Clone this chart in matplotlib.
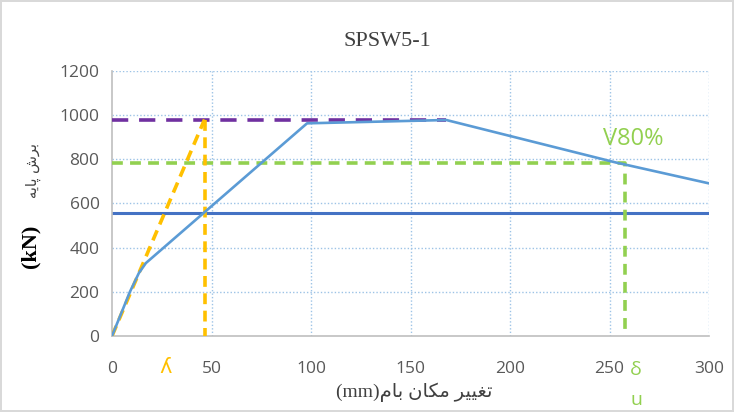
import matplotlib
matplotlib.use("Agg")
import matplotlib.pyplot as plt

# data
curve_x = [0, 9, 13.5, 17, 98, 168, 253, 300]
curve_y = [0, 200, 285, 330, 963, 978, 786, 691]
yield_x = [0, 46.5, 46.5]
yield_y = [0, 980, 0]
peak_level = 980
peak_end = 168
v80_level = 782
v80_x = 258
mid_level = 556
xticks = [0, 50, 100, 150, 200, 250, 300]
yticks = [0, 200, 400, 600, 800, 1000, 1200]

fig = plt.figure(figsize=(7.34, 4.12), dpi=100)
fig.patch.set_edgecolor("#D9D9D9")
fig.patch.set_linewidth(1.5)
ax = fig.add_axes([0.1526, 0.1845, 0.8134, 0.6432])

grid_c = "#9DC3E6"
for t in xticks[1:]:
    ax.axvline(t, color=grid_c, lw=1.0, ls=(0, (1, 1.5)), zorder=0)
for t in yticks[1:]:
    ax.axhline(t, color=grid_c, lw=1.0, ls=(0, (1, 1.5)), zorder=0)

ax.plot([0, 300], [mid_level, mid_level], color="#4472C4", lw=2.2, zorder=2)
ax.plot([0, peak_end], [peak_level, peak_level], color="#7030A0", lw=2.6,
        ls=(0, (4.5, 3)), zorder=3)
ax.plot([0, v80_x, v80_x], [v80_level, v80_level, 0], color="#92D050", lw=2.6,
        ls=(0, (3, 2)), zorder=3)
ax.plot(yield_x[:2], yield_y[:2], color="#FFC000", lw=2.6, ls=(0, (3, 1.8)), zorder=4)
ax.plot(yield_x[1:], yield_y[1:], color="#FFC000", lw=2.6, ls=(0, (3, 1.8)), zorder=4)
ax.plot(curve_x, curve_y, color="#5B9BD5", lw=1.9, zorder=5)

ax.set_xlim(0, 300)
ax.set_ylim(0, 1200)
ax.set_xticks(xticks)
ax.set_yticks(yticks)
for s in ["top", "right"]:
    ax.spines[s].set_visible(False)
for s in ["left", "bottom"]:
    ax.spines[s].set_color("#BFBFBF")
    ax.spines[s].set_linewidth(1.2)
ax.tick_params(length=0, labelsize=12.5, labelcolor="#595959")
ax.tick_params(axis="x", pad=18)
ax.tick_params(axis="y", pad=9)
for lab in ax.get_xticklabels() + ax.get_yticklabels():
    lab.set_fontfamily("Open Sans")

fig.text(387 / 734, 1 - 42 / 412, "SPSW5-1", fontfamily="Liberation Serif", fontsize=16,
         color="#404040", ha="center", va="center")

xl = "(mm)" + "\uFEE1\uFE8E\uFE91" + " " + "\uFEE5\uFE8E\uFB91\uFEE3" + " " + "\uFEAE\uFEF4\uFEF4\uFED0\uFE97"
yl_ar = "\uFEEA\uFEF3\uFE8E\uFB58" + " " + "\uFEB5\uFEAE\uFE91"
fig.text(414 / 734, 1 - 392 / 412, xl, family=["Liberation Serif", "DejaVu Sans"],
         fontsize=14, color="#404040", ha="center", va="center")
fig.text(30 / 734, 1 - 246 / 412, "(kN)", rotation=90, ha="center", va="center",
         fontfamily="Liberation Serif", fontsize=16, fontweight="bold", color="#000000")
fig.text(33 / 734, 1 - 170 / 412, yl_ar, rotation=90, ha="center", va="center",
         family=["DejaVu Sans"], fontsize=10.5, color="#404040")

ax.text(262, 890, "V80%", color="#92D050", fontsize=17, fontfamily="Open Sans",
        ha="center", va="center")
fig.text(636 / 734, 1 - 370 / 412, "\u03b4", color="#92D050", fontsize=14,
         fontfamily="Open Sans", ha="center", va="center")
fig.text(636 / 734, 1 - 400 / 412, "u", color="#92D050", fontsize=14,
         fontfamily="Open Sans", ha="center", va="center")
fig.text(166 / 734, 1 - 367 / 412, "\u028e", color="#FFC000", fontsize=15,
         fontfamily="DejaVu Sans", ha="center", va="center")

fig.savefig("out.png", dpi=100)
